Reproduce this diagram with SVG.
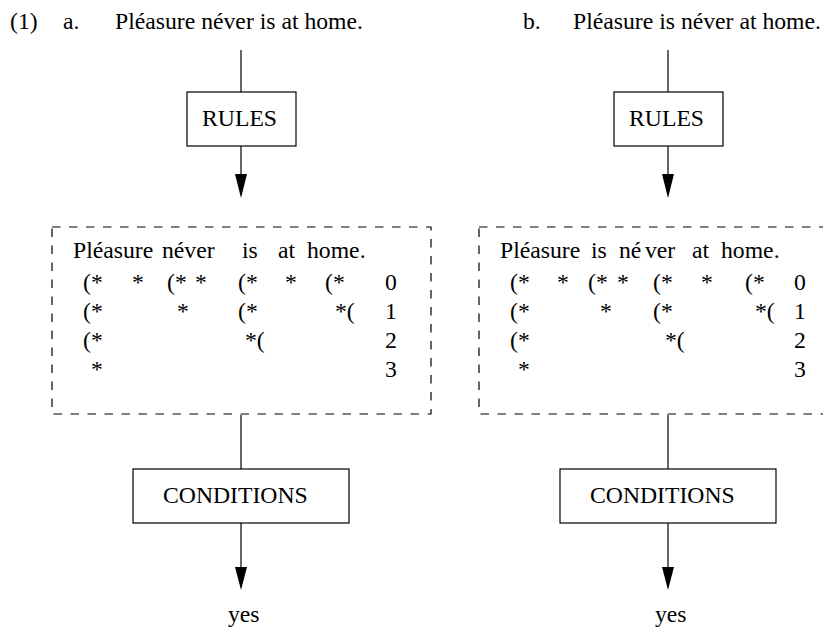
<svg xmlns="http://www.w3.org/2000/svg" width="823" height="629" viewBox="0 0 823 629">
  <defs>
    <style>
      text { font-family: "Liberation Serif", "Times New Roman", serif; font-size: 23.7px; fill: #000; }
      .box { fill: #fff; stroke: #000; stroke-width: 1.2; }
      .dash { fill: none; stroke: #000; stroke-width: 1.2; stroke-dasharray: 8.5 8.5; }
      .wire { fill: none; stroke: #000; stroke-width: 1.2; }
      .head { fill: #000; stroke: none; }
    </style>
  </defs>
  <rect width="823" height="629" fill="#fff"/>

  <!-- example heading -->
  <g id="heading">
    <text x="10" y="29">(1)</text>
    <text x="63" y="29">a.</text>
    <text x="115" y="29">Pléasure néver is at home.</text>
    <text x="523" y="29">b.</text>
    <text x="573" y="29">Pléasure is néver at home.</text>
  </g>

  <!-- connectors -->
  <g id="connectors">
    <line class="wire" x1="241" y1="50" x2="241" y2="92"/>
    <line class="wire" x1="241" y1="146" x2="241" y2="176"/>
    <polygon class="head" points="235,174 247,174 241,198"/>
    <line class="wire" x1="241" y1="415" x2="241" y2="469"/>
    <line class="wire" x1="241" y1="523" x2="241" y2="569"/>
    <polygon class="head" points="235,567 247,567 241,590"/>

    <line class="wire" x1="668" y1="50" x2="668" y2="92"/>
    <line class="wire" x1="668" y1="146" x2="668" y2="176"/>
    <polygon class="head" points="662,174 674,174 668,198"/>
    <line class="wire" x1="668" y1="415" x2="668" y2="469"/>
    <line class="wire" x1="668" y1="523" x2="668" y2="569"/>
    <polygon class="head" points="662,567 674,567 668,590"/>
  </g>

  <!-- left column -->
  <g id="rules-a">
    <rect class="box" x="187" y="92" width="109" height="54"/>
    <text x="202" y="126">RULES</text>
  </g>

  <g id="grid-a">
    <rect class="dash" x="52" y="227" width="379" height="187"/>
    <text x="73" y="258">Pléasure</text>
    <text x="162" y="258">néver</text>
    <text x="242" y="258">is</text>
    <text x="278" y="258">at</text>
    <text x="307" y="258">home.</text>

    <text x="83" y="290">(*</text>
    <text x="132" y="290">*</text>
    <text x="167" y="290">(*</text>
    <text x="195" y="290">*</text>
    <text x="238" y="290">(*</text>
    <text x="285" y="290">*</text>
    <text x="325" y="290">(*</text>
    <text x="385" y="290">0</text>

    <text x="83" y="319">(*</text>
    <text x="177" y="319">*</text>
    <text x="238" y="319">(*</text>
    <text x="335" y="319">*(</text>
    <text x="385" y="319">1</text>

    <text x="83" y="348">(*</text>
    <text x="245" y="348">*(</text>
    <text x="385" y="348">2</text>

    <text x="91" y="377">*</text>
    <text x="385" y="377">3</text>
  </g>

  <g id="conditions-a">
    <rect class="box" x="133" y="469" width="216" height="54"/>
    <text x="163" y="503">CONDITIONS</text>
  </g>

  <g id="result-a">
    <text x="228" y="622">yes</text>
  </g>

  <!-- right column -->
  <g id="rules-b">
    <rect class="box" x="614" y="92" width="109" height="54"/>
    <text x="629" y="126">RULES</text>
  </g>

  <g id="grid-b">
    <rect class="dash" x="479" y="227" width="379" height="187"/>
    <text x="500" y="258">Pléasure</text>
    <text x="591" y="258">is</text>
    <text x="619" y="258">né</text>
    <text x="645" y="258">ver</text>
    <text x="692" y="258">at</text>
    <text x="721" y="258">home.</text>

    <text x="510" y="290">(*</text>
    <text x="557" y="290">*</text>
    <text x="588" y="290">(*</text>
    <text x="617" y="290">*</text>
    <text x="653" y="290">(*</text>
    <text x="701" y="290">*</text>
    <text x="745" y="290">(*</text>
    <text x="794" y="290">0</text>

    <text x="510" y="319">(*</text>
    <text x="600" y="319">*</text>
    <text x="653" y="319">(*</text>
    <text x="755" y="319">*(</text>
    <text x="794" y="319">1</text>

    <text x="510" y="348">(*</text>
    <text x="665" y="348">*(</text>
    <text x="794" y="348">2</text>

    <text x="518" y="377">*</text>
    <text x="794" y="377">3</text>
  </g>

  <g id="conditions-b">
    <rect class="box" x="560" y="469" width="216" height="54"/>
    <text x="590" y="503">CONDITIONS</text>
  </g>

  <g id="result-b">
    <text x="655" y="622">yes</text>
  </g>
</svg>
